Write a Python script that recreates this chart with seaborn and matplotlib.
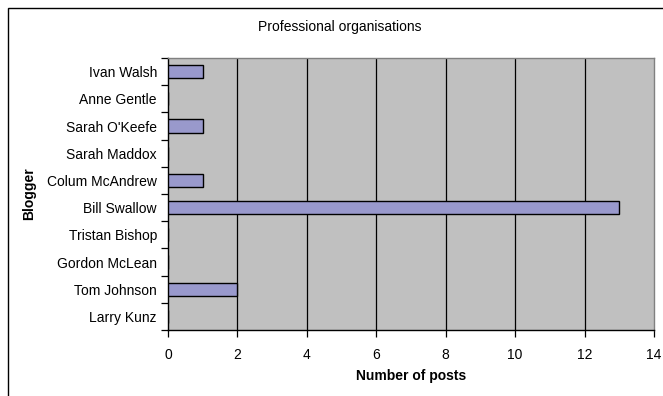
import matplotlib
matplotlib.use("Agg")
import matplotlib.pyplot as plt
import seaborn as sns
import numpy as np
import pandas as pd
from matplotlib.patches import Rectangle

bloggers = ["Ivan Walsh", "Anne Gentle", "Sarah O'Keefe", "Sarah Maddox", "Colum McAndrew",
            "Bill Swallow", "Tristan Bishop", "Gordon McLean", "Tom Johnson", "Larry Kunz"]
posts = [1, 0, 1, 0, 1, 13, 0, 0, 2, 0]
xticks = [0, 2, 4, 6, 8, 10, 12, 14]

sns.set_theme(style="white")
plt.rcParams['font.family'] = ['Liberation Sans', 'DejaVu Sans']
plt.rcParams['text.color'] = 'black'
plt.rcParams['axes.labelcolor'] = 'black'
plt.rcParams['xtick.color'] = 'black'
plt.rcParams['ytick.color'] = 'black'

FS = 10
df = pd.DataFrame({"Blogger": bloggers, "Posts": posts})

fig = plt.figure(figsize=(6.63, 3.96), dpi=100)
ax = fig.add_axes([168/663, 1-330/396, (654-168)/663, (330-58)/396])
ax.set_facecolor("#C0C0C0")

sns.barplot(data=df, x="Posts", y="Blogger", order=bloggers, color="#9999CC",
            edgecolor="black", linewidth=1, width=0.48, saturation=1, ax=ax, zorder=3)

ax.set_xlim(0, 14)
ax.set_ylim(9.5, -0.5)
ax.set_xticks(xticks)
ax.set_xticklabels([str(v) for v in xticks], fontsize=FS)
for v in xticks[1:-1]:
    ax.axvline(v, color="black", lw=0.9, zorder=1)

ax.set_yticks(np.arange(-0.5, 10, 1))
ax.set_yticklabels([])
ax.set_yticks(np.arange(10), minor=True)
ax.set_yticklabels(bloggers, minor=True, fontsize=FS)
ax.tick_params(axis="y", which="major", direction="out", length=5, width=0.9, color="black", left=True)
ax.tick_params(axis="y", which="minor", length=0, pad=8)
ax.tick_params(axis="x", direction="out", length=5, width=0.9, color="black", bottom=True, pad=8)

for s in ["left", "bottom"]:
    ax.spines[s].set_color("black")
    ax.spines[s].set_linewidth(1)
for s in ["top", "right"]:
    ax.spines[s].set_color("#808080")
    ax.spines[s].set_linewidth(1)

ax.set_xlabel("Number of posts", fontsize=FS, fontweight="bold")
ax.xaxis.set_label_coords(0.5, -(376 - 330) / (330 - 58))
ax.xaxis.label.set_va("center")
ax.set_ylabel("Blogger", fontsize=FS, fontweight="bold")
ax.yaxis.set_label_coords((29 - 168) / (654 - 168), 0.5)
ax.yaxis.label.set_va("center")
fig.text(340/663, 1-27/396, "Professional organisations", fontsize=FS, ha="center", va="center")

fig.patches.append(Rectangle((8/663, -0.1), 1.2, 1-8/396+0.1, transform=fig.transFigure,
                             fill=False, edgecolor="black", linewidth=1))

fig.savefig("out.png", dpi=100)
